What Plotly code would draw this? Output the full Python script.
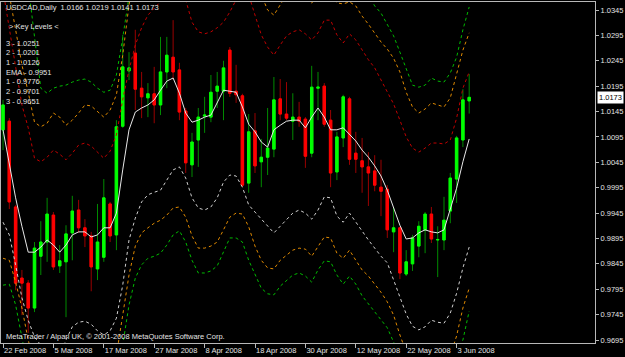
import numpy as np
import pandas as pd
import plotly.graph_objects as go

# ---------------- data (USDCAD daily, 22 Feb 2008 .. 5 Jun 2008) ----------------
dates = pd.bdate_range("2008-02-22", periods=75)

open_ = [1.0109, 1.0126, 0.9957, 0.9817, 0.9807, 0.9758, 0.9860, 0.9888, 0.9941, 0.9841,
         0.9849, 0.9906, 0.9951, 0.9916, 0.9900, 0.9835, 0.9858, 0.9963, 0.9902, 1.0116,
         1.0225, 1.0260, 1.0191, 1.0172, 1.0180, 1.0158, 1.0223, 1.0252, 1.0227, 1.0146,
         1.0040, 1.0089, 1.0136, 1.0134, 1.0185, 1.0185, 1.0266, 1.0185, 1.0176, 1.0004,
         1.0107, 1.0046, 1.0055, 1.0071, 1.0170, 1.0140, 1.0126, 1.0134, 1.0130, 1.0063,
         1.0191, 1.0195, 1.0128, 1.0026, 1.0093, 1.0170, 1.0063, 1.0048, 1.0036, 1.0028,
         0.9996, 0.9992, 0.9908, 0.9916, 0.9825, 0.9845, 0.9880, 0.9912, 0.9943, 0.9892,
         0.9892, 0.9949, 1.0012, 1.0089, 1.0166]
high = [1.0168, 1.0132, 0.9961, 0.9833, 0.9813, 0.9888, 0.9929, 0.9975, 0.9947, 0.9882,
        0.9921, 0.9979, 0.9971, 0.9933, 0.9908, 0.9963, 1.0012, 0.9967, 1.0128, 1.0296,
        1.0262, 1.0306, 1.0223, 1.0201, 1.0233, 1.0292, 1.0292, 1.0325, 1.0241, 1.0152,
        1.0103, 1.0152, 1.0174, 1.0217, 1.0223, 1.0245, 1.0272, 1.0237, 1.0180, 1.0140,
        1.0142, 1.0091, 1.0152, 1.0213, 1.0209, 1.0203, 1.0181, 1.0164, 1.0134, 1.0235,
        1.0223, 1.0201, 1.0148, 1.0105, 1.0178, 1.0174, 1.0105, 1.0093, 1.0065, 1.0059,
        1.0050, 1.0000, 0.9957, 0.9918, 0.9872, 0.9902, 0.9929, 0.9947, 0.9957, 0.9919,
        0.9977, 1.0024, 1.0097, 1.0189, 1.0219]
low = [1.0069, 0.9953, 0.9793, 0.9744, 0.9709, 0.9750, 0.9823, 0.9849, 0.9833, 0.9827,
       0.9740, 0.9852, 0.9906, 0.9878, 0.9791, 0.9813, 0.9849, 0.9888, 0.9872, 1.0113,
       1.0207, 1.0148, 1.0132, 1.0134, 1.0122, 1.0138, 1.0191, 1.0207, 1.0128, 1.0024,
       1.0016, 1.0036, 1.0103, 1.0124, 1.0152, 1.0128, 1.0174, 1.0162, 0.9996, 0.9985,
       1.0024, 0.9996, 1.0020, 1.0055, 1.0128, 1.0128, 1.0089, 1.0115, 1.0034, 1.0055,
       1.0128, 1.0115, 0.9996, 1.0010, 1.0075, 1.0040, 1.0024, 0.9985, 0.9959, 0.9988,
       0.9939, 0.9896, 0.9868, 0.9815, 0.9821, 0.9831, 0.9858, 0.9866, 0.9886, 0.9819,
       0.9872, 0.9925, 0.9965, 1.0075, 1.0141]
close = [1.0158, 0.9967, 0.9807, 0.9807, 0.9758, 0.9876, 0.9888, 0.9943, 0.9839, 0.9851,
         0.9904, 0.9949, 0.9916, 0.9900, 0.9839, 0.9888, 0.9975, 0.9900, 1.0115, 1.0233,
         1.0231, 1.0189, 1.0174, 1.0180, 1.0158, 1.0223, 1.0256, 1.0223, 1.0144, 1.0044,
         1.0085, 1.0134, 1.0138, 1.0183, 1.0195, 1.0231, 1.0181, 1.0178, 1.0000, 1.0105,
         1.0038, 1.0055, 1.0073, 1.0168, 1.0140, 1.0132, 1.0134, 1.0126, 1.0057, 1.0193,
         1.0193, 1.0120, 1.0024, 1.0095, 1.0174, 1.0051, 1.0051, 1.0036, 1.0024, 1.0000,
         0.9988, 0.9912, 0.9916, 0.9827, 0.9849, 0.9896, 0.9919, 0.9943, 0.9894, 0.9893,
         0.9931, 1.0014, 1.0093, 1.0168, 1.0173]

ema = [1.0109, 1.0044, 0.9975, 0.9919, 0.9868, 0.9868, 0.9878, 0.9892, 0.9882, 0.9868,
       0.9882, 0.9902, 0.9908, 0.9908, 0.9898, 0.9902, 0.9916, 0.9916, 0.9945, 1.0030,
       1.0109, 1.0144, 1.0152, 1.0158, 1.0168, 1.0187, 1.0205, 1.0211, 1.0181, 1.0142,
       1.0124, 1.0128, 1.0134, 1.0138, 1.0162, 1.0187, 1.0185, 1.0183, 1.0154, 1.0120,
       1.0105, 1.0085, 1.0075, 1.0109, 1.0118, 1.0126, 1.0128, 1.0128, 1.0113, 1.0134,
       1.0152, 1.0134, 1.0109, 1.0109, 1.0113, 1.0101, 1.0087, 1.0069, 1.0055, 1.0038,
       1.0018, 0.9990, 0.9957, 0.9921, 0.9894, 0.9896, 0.9906, 0.9912, 0.9908, 0.9906,
       0.9912, 0.9955, 0.9994, 1.0046, 1.0091]
upper1 = [1.0384, 1.0306, 1.0227, 1.0158, 1.0113, 1.0053, 1.0046, 1.0055, 1.0069, 1.0061,
          1.0050, 1.0063, 1.0079, 1.0083, 1.0077, 1.0065, 1.0053, 1.0067, 1.0099, 1.0168,
          1.0227, 1.0276, 1.0310, 1.0335, 1.0349, 1.0361, 1.0375, 1.0388, 1.0384, 1.0365,
          1.0321, 1.0302, 1.0298, 1.0302, 1.0310, 1.0321, 1.0341, 1.0365, 1.0380, 1.0375,
          1.0335, 1.0296, 1.0272, 1.0256, 1.0276, 1.0294, 1.0302, 1.0306, 1.0298, 1.0286,
          1.0300, 1.0325, 1.0325, 1.0296, 1.0280, 1.0298, 1.0286, 1.0266, 1.0247, 1.0231,
          1.0207, 1.0181, 1.0160, 1.0128, 1.0095, 1.0073, 1.0065, 1.0073, 1.0083, 1.0083,
          1.0081, 1.0089, 1.0132, 1.0191, 1.0223]
upper2 = [1.0503, 1.0375, 1.0306, 1.0237, 1.0183, 1.0124, 1.0115, 1.0122, 1.0142, 1.0134,
          1.0118, 1.0128, 1.0142, 1.0158, 1.0156, 1.0144, 1.0134, 1.0148, 1.0178, 1.0256,
          1.0355, 1.0424, 1.0463, 1.0487, 1.0503, 1.0512, 1.0526, 1.0542, 1.0542, 1.0522,
          1.0479, 1.0455, 1.0451, 1.0455, 1.0463, 1.0475, 1.0495, 1.0512, 1.0518, 1.0493,
          1.0444, 1.0375, 1.0345, 1.0335, 1.0355, 1.0375, 1.0375, 1.0371, 1.0369, 1.0359,
          1.0371, 1.0380, 1.0373, 1.0359, 1.0357, 1.0361, 1.0353, 1.0333, 1.0317, 1.0300,
          1.0282, 1.0268, 1.0250, 1.0223, 1.0183, 1.0154, 1.0142, 1.0150, 1.0162, 1.0158,
          1.0154, 1.0172, 1.0217, 1.0266, 1.0300]
upper3 = [1.0660, 1.0601, 1.0542, 1.0473, 1.0394, 1.0296, 1.0191, 1.0181, 1.0191, 1.0195,
          1.0197, 1.0203, 1.0207, 1.0209, 1.0203, 1.0191, 1.0183, 1.0187, 1.0217, 1.0290,
          1.0384, 1.0453, 1.0493, 1.0518, 1.0532, 1.0542, 1.0556, 1.0572, 1.0572, 1.0552,
          1.0512, 1.0493, 1.0487, 1.0491, 1.0499, 1.0512, 1.0532, 1.0552, 1.0562, 1.0552,
          1.0512, 1.0473, 1.0447, 1.0438, 1.0453, 1.0473, 1.0479, 1.0479, 1.0473, 1.0463,
          1.0477, 1.0499, 1.0499, 1.0473, 1.0459, 1.0467, 1.0447, 1.0414, 1.0375, 1.0353,
          1.0339, 1.0317, 1.0294, 1.0262, 1.0231, 1.0197, 1.0193, 1.0197, 1.0211, 1.0205,
          1.0203, 1.0221, 1.0252, 1.0306, 1.0351]
lower1 = [0.9927, 0.9902, 0.9843, 0.9778, 0.9734, 0.9701, 0.9685, 0.9665, 0.9656, 0.9665,
          0.9695, 0.9721, 0.9730, 0.9732, 0.9726, 0.9713, 0.9705, 0.9713, 0.9738, 0.9803,
          0.9892, 0.9935, 0.9967, 0.9981, 0.9986, 0.9990, 1.0010, 1.0030, 1.0036, 1.0014,
          0.9975, 0.9955, 0.9951, 0.9957, 0.9975, 1.0006, 1.0020, 1.0018, 0.9996, 0.9961,
          0.9947, 0.9933, 0.9921, 0.9906, 0.9919, 0.9933, 0.9945, 0.9951, 0.9945, 0.9933,
          0.9951, 0.9977, 0.9975, 0.9939, 0.9927, 0.9945, 0.9927, 0.9908, 0.9892, 0.9876,
          0.9860, 0.9847, 0.9813, 0.9780, 0.9746, 0.9722, 0.9715, 0.9721, 0.9734, 0.9730,
          0.9728, 0.9748, 0.9787, 0.9837, 0.9878]
lower2 = [0.9856, 0.9852, 0.9809, 0.9758, 0.9695, 0.9646, 0.9616, 0.9596, 0.9587, 0.9592,
          0.9616, 0.9640, 0.9648, 0.9650, 0.9644, 0.9632, 0.9626, 0.9636, 0.9665, 0.9744,
          0.9823, 0.9880, 0.9906, 0.9916, 0.9925, 0.9931, 0.9941, 0.9955, 0.9957, 0.9937,
          0.9900, 0.9876, 0.9876, 0.9880, 0.9888, 0.9912, 0.9937, 0.9945, 0.9943, 0.9918,
          0.9880, 0.9852, 0.9837, 0.9835, 0.9852, 0.9862, 0.9872, 0.9876, 0.9874, 0.9860,
          0.9878, 0.9898, 0.9896, 0.9866, 0.9856, 0.9872, 0.9852, 0.9833, 0.9821, 0.9805,
          0.9789, 0.9770, 0.9744, 0.9705, 0.9671, 0.9646, 0.9636, 0.9640, 0.9652, 0.9652,
          0.9652, 0.9665, 0.9703, 0.9758, 0.9797]
lower3 = [0.9803, 0.9805, 0.9764, 0.9695, 0.9636, 0.9596, 0.9567, 0.9553, 0.9547, 0.9557,
          0.9577, 0.9592, 0.9600, 0.9600, 0.9596, 0.9585, 0.9581, 0.9592, 0.9626, 0.9685,
          0.9764, 0.9817, 0.9843, 0.9856, 0.9860, 0.9866, 0.9882, 0.9902, 0.9910, 0.9888,
          0.9852, 0.9827, 0.9827, 0.9831, 0.9841, 0.9868, 0.9896, 0.9896, 0.9888, 0.9852,
          0.9823, 0.9797, 0.9786, 0.9784, 0.9801, 0.9813, 0.9823, 0.9827, 0.9821, 0.9809,
          0.9833, 0.9851, 0.9849, 0.9823, 0.9805, 0.9821, 0.9805, 0.9782, 0.9766, 0.9750,
          0.9736, 0.9719, 0.9691, 0.9665, 0.9640, 0.9616, 0.9606, 0.9610, 0.9620, 0.9620,
          0.9620, 0.9632, 0.9671, 0.9695, 0.9752]

key_levels = ["3 - 1.0251", "2 - 1.0201", "1 - 1.0126", "EMA - 0.9951",
              "1 - 0.9776", "2 - 0.9701", "3 - 0.9651"]
y_ticks = [0.9695, 0.9745, 0.9795, 0.9845, 0.9895, 0.9945, 0.9995,
           1.0045, 1.0095, 1.0145, 1.0195, 1.0245, 1.0295, 1.0345]

# ---------------- figure ----------------
x = np.arange(len(dates))
tick_idx = x[::8]
tick_text = [f"{d.day} {d.strftime('%b %Y')}" for d in dates[::8]]

FONT = "Liberation Sans"
TXT = "#e4e4e4"
FRAME = "#b8b8b8"

fig = go.Figure()

# wicks (dark colours)
fig.add_trace(go.Candlestick(
    x=x, open=open_, high=high, low=low, close=close,
    increasing=dict(line=dict(color="#008a00", width=1), fillcolor="rgba(0,0,0,0)"),
    decreasing=dict(line=dict(color="#9a0000", width=1), fillcolor="rgba(0,0,0,0)"),
    hoverinfo="skip", showlegend=False))
# bodies (bright colours)
body_hi = np.maximum(open_, close)
body_lo = np.minimum(open_, close)
fig.add_trace(go.Candlestick(
    x=x, open=open_, high=body_hi, low=body_lo, close=close,
    increasing=dict(line=dict(color="#00ff00", width=1), fillcolor="#00ff00"),
    decreasing=dict(line=dict(color="#ff0000", width=1), fillcolor="#ff0000"),
    hoverinfo="skip", showlegend=False))

dots = "3px,3px"
bands = [
    (upper3, "#00bb00"), (upper2, "#e08a00"), (upper1, "#c00000"),
    (lower1, "#d0d0d0"), (lower2, "#e08a00"), (lower3, "#00bb00"),
]
for vals, col in bands:
    fig.add_trace(go.Scatter(x=x, y=vals, mode="lines",
                             line=dict(color=col, width=1, dash=dots),
                             hoverinfo="skip", showlegend=False))
fig.add_trace(go.Scatter(x=x, y=ema, mode="lines",
                         line=dict(color="#e8e8e8", width=1),
                         hoverinfo="skip", showlegend=False))

annots = []
annots.append(dict(text="USDCAD,Daily\u00a0\u00a01.0166 1.0219 1.0141 1.0173",
                   xref="paper", yref="paper", x=0, y=1, xshift=3, yshift=-5,
                   xanchor="left", yanchor="middle", showarrow=False,
                   font=dict(family=FONT, size=7.5, color=TXT)))
annots.append(dict(text="&gt;\u00a0Key Levels\u00a0&lt;",
                   xref="paper", yref="paper", x=0, y=1, xshift=6, yshift=-24,
                   xanchor="left", yanchor="middle", showarrow=False,
                   font=dict(family=FONT, size=7.5, color=TXT)))
for k, t in enumerate(key_levels):
    annots.append(dict(text=t, xref="paper", yref="paper", x=0, y=1,
                       xshift=3, yshift=-41 - 9.7 * k,
                       xanchor="left", yanchor="middle", showarrow=False,
                       font=dict(family=FONT, size=7.5, color=TXT)))
annots.append(dict(text="MetaTrader / Alpari UK, © 2001-2008 MetaQuotes Software Corp.",
                   xref="paper", yref="paper", x=0, y=0, xshift=3, yshift=7,
                   xanchor="left", yanchor="middle", showarrow=False,
                   font=dict(family=FONT, size=7.5, color=TXT)))
annots.append(dict(text=f"{close[-1]:.4f}", xref="paper", yref="y",
                   x=1, y=close[-1], xshift=2, xanchor="left", yanchor="middle",
                   showarrow=False, bgcolor="#ffffff", borderpad=1,
                   font=dict(family=FONT, size=7.5, color="#000000")))

fig.update_layout(
    width=625, height=357,
    margin=dict(l=1, r=30, t=2, b=14),
    paper_bgcolor="#000000", plot_bgcolor="#000000",
    boxgap=0.45,
    showlegend=False,
    annotations=annots,
    xaxis=dict(range=[-0.32, 93.97], tickmode="array", tickvals=tick_idx,
               ticktext=tick_text, ticks="outside", ticklen=4, tickcolor=FRAME,
               ticklabelposition="outside right", tickangle=0,
               tickfont=dict(family=FONT, size=7.5, color=TXT),
               showgrid=False, zeroline=False, showline=True, mirror=True,
               linecolor=FRAME, linewidth=1, rangeslider=dict(visible=False),
               fixedrange=True),
    yaxis=dict(side="right", range=[0.968909, 1.036076], tickmode="array",
               tickvals=y_ticks, ticktext=[f"{v:.4f}" for v in y_ticks],
               ticks="outside", ticklen=3, tickcolor=FRAME,
               tickfont=dict(family=FONT, size=7.5, color=TXT),
               showgrid=False, zeroline=False, showline=True, mirror=True,
               linecolor=FRAME, linewidth=1, fixedrange=True),
)

fig.write_html("out.html")
